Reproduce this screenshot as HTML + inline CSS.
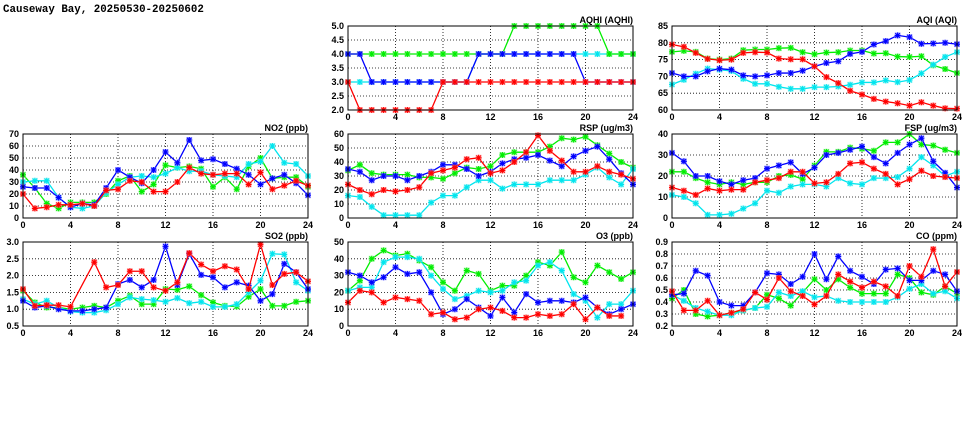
<!DOCTYPE html>
<html><head><meta charset="utf-8"><style>
body{margin:0;background:#fff;width:975px;height:447px;overflow:hidden}
svg{display:block}
text{font-family:"Liberation Sans",sans-serif;font-weight:bold;font-size:9px;fill:#000}
</style></head><body>
<svg id="s" width="975" height="447" xmlns="http://www.w3.org/2000/svg">
<text x="3" y="12" style="font-family:'Liberation Mono',monospace;font-size:10.8px">Causeway Bay, 20250530-20250602</text>
</svg>
<script>
const S=document.getElementById('s');const NS='http://www.w3.org/2000/svg';
function el(t,a,txt){const e=document.createElementNS(NS,t);for(const k in a)e.setAttribute(k,a[k]);if(txt!=null)e.textContent=txt;S.appendChild(e);return e;}
const C={b:'#0000ff',g:'#00ee00',c:'#00e5ee',r:'#ff0000'};
const LC={b:'#8888ff',g:'#88f088',c:'#88f0f0',r:'#ff8888'};
function panel(x0,x1,y0,y1,ymin,ymax,step,dec,title,series){
  const X=h=>x0+(x1-x0)*h/24, Y=v=>y1-(y1-y0)*(v-ymin)/(ymax-ymin);
  for(let v=ymin+step;v<ymax-1e-9;v+=step){el('line',{x1:x0,x2:x1,y1:Y(v),y2:Y(v),stroke:'#000','stroke-width':0.8,'stroke-dasharray':'1,2'});}
  for(let h=4;h<24;h+=4){el('line',{x1:X(h),x2:X(h),y1:y0,y2:y1,stroke:'#000','stroke-width':0.8,'stroke-dasharray':'1,2'});}
  for(let v=ymin;v<=ymax+1e-9;v+=step){el('text',{x:x0-4,y:Y(v)+3,'text-anchor':'end'},v.toFixed(dec));}
  for(let h=0;h<=24;h+=4){el('text',{x:X(h),y:y1+10,'text-anchor':'middle'},String(h));}
  el('text',{x:x1,y:y0-3,'text-anchor':'end'},title);
  for(const [k,d] of series){
    const pts=[];d.forEach((v,i)=>{if(v!=null)pts.push([X(i),Y(v)]);});
    el('polyline',{points:pts.map(p=>p.join(',')).join(' '),fill:'none',stroke:C[k],'stroke-width':1.3});
    for(const [px,py] of pts){
      el('rect',{x:px-3,y:py-3,width:6,height:6,fill:LC[k],opacity:0.6});
      el('path',{d:`M${px-3},${py}h6M${px},${py-3}v6M${px-2.3},${py-2.3}l4.6,4.6M${px-2.3},${py+2.3}l4.6,-4.6`,stroke:C[k],'stroke-width':1.1});
    }
  }
  el('rect',{x:x0,y:y0,width:x1-x0,height:y1-y0,fill:'none',stroke:'#000','stroke-width':1});
}
const L=[23,308],M=[348,633],R=[672,957];
const T=[26,110],Mi=[134,218],B=[242,326];
panel(M[0],M[1],T[0],T[1],2,5,0.5,1,'AQHI (AQHI)',[
['c',[3,3,3,3,3,3,3,3,3,3,3,4,4,4,4,4,4,4,4,4,4,4,4,4,4]],
['g',[4,4,4,4,4,4,4,4,4,4,4,4,4,4,5,5,5,5,5,5,5,5,4,4,4]],
['b',[4,4,3,3,3,3,3,3,3,3,3,4,4,4,4,4,4,4,4,4,3,3,3,3,3]],
['r',[3,2,2,2,2,2,2,2,3,3,3,3,3,3,3,3,3,3,3,3,3,3,3,3,3]]]);
panel(R[0],R[1],T[0],T[1],60,85,5,0,'AQI (AQI)',[
['g',[77.3,77.6,77.3,75.3,75,75.3,77.8,78,78,78.4,78.5,77.2,76.6,77.1,77.2,77.7,77.7,76.8,76.9,75.9,75.8,76,73.3,72.2,71]],
['c',[67.6,69,70.8,72.3,72,71.6,69.3,67.8,67.8,66.9,66.3,66.3,66.8,66.8,67,67.5,68.2,68.2,68.8,68.3,68.9,70.9,73.5,75.8,77.2]],
['b',[71,70,70,71.5,72.3,72,70.3,70,70.3,71,71,71.7,73,74,74.5,76.7,77.3,79.5,80.5,82.2,81.7,79.7,79.8,80,79.6]],
['r',[79.5,78.8,77,75.2,74.8,75,77,77.2,77.1,75.3,75.1,75.1,73,69.8,68,65.7,64.6,63.3,62.5,62,61.3,62.3,61.3,60.5,60.4]]]);
panel(L[0],L[1],Mi[0],Mi[1],0,70,10,0,'NO2 (ppb)',[
['g',[36,25,12,8,13,13,13,20,31,35,22,28,44,42,43,41,26,34,24,43,50,33,34,34,26]],
['c',[30,31,31,17,9,8,10,21,28,34,35,34,37,42,39,39,36,35,34,45,47,60,46,45,35]],
['b',[26,25,25,17,9,12,11,25,40,34,29,40,55,46,65,48,49,45,41,36,28,33,36,29,19]],
['r',[20,8,9,11,11,12,10,23,24,31,30,22,22,30,42,37,36,37,37,28,38,24,27,31,27]]]);
panel(M[0],M[1],Mi[0],Mi[1],0,60,10,0,'RSP (ug/m3)',[
['g',[34,38,32,31,31,31,29,29,28,32,36,35,37,45,47,47,47,51,57,56,58,52,46,40,36]],
['c',[16,15,8,2,2,2,2,11,16,16,22,27,27,21,24,24,24,27,27,27,31,36,29,24,35]],
['b',[35,33,27,30,30,27,30,33,38,38,35,30,33,39,42,43,45,41,37,44,48,51,42,32,24]],
['r',[24,20,17,20,19,20,22,32,34,36,42,43,32,34,40,47,59,48,41,33,33,37,33,31,28]]]);
panel(R[0],R[1],Mi[0],Mi[1],0,40,10,0,'FSP (ug/m3)',[
['g',[22,22,19,17,16,17,16,17,17,20,20.5,18.5,25,31.5,31.5,33.5,33,32,36,36,40,35,34.5,32.5,31]],
['c',[11,10,7,1.5,1.5,2,4.5,7,13,12,15,16,16,15,19,16.5,16,19,19,19.5,23.5,29,25,20,22]],
['b',[31,27,20,20,17.5,16,18,19,23.5,25,26.5,21,24,30,31,32.5,34,29,26,31,35,38,27,21.5,14.5]],
['r',[14.5,13,11,14,13,13.5,13.5,17,18,19,22,22,16.5,17,21,26,26.5,23.5,21,16,18.5,22.5,20,19.5,19]]]);
panel(L[0],L[1],B[0],B[1],0.5,3,0.5,1,'SO2 (ppb)',[
['g',[1.55,1.2,1.05,1.05,1,1.05,1.1,1.05,1.25,1.4,1.15,1.15,1.6,1.58,1.68,1.42,1.2,1.1,1.08,1.37,1.6,1.1,1.1,1.22,1.25]],
['c',[1.3,1.15,1.25,1.05,0.93,0.9,0.9,0.97,1.15,1.35,1.3,1.27,1.22,1.33,1.18,1.22,1.07,1.07,1.15,1.5,1.85,2.65,2.63,1.8,1.55]],
['b',[1.25,1.05,1.1,1,0.95,0.95,1,1.05,1.75,1.87,1.65,1.87,2.87,1.72,2.65,2.02,1.95,1.65,1.8,1.7,1.25,1.45,2.35,2.1,1.6]],
['r',[1.6,1.1,1.12,1.12,1.07,null,2.4,1.65,1.72,2.13,2.13,1.65,1.55,1.8,2.67,2.33,2.13,2.28,2.18,1.6,2.93,1.72,2.05,2.1,1.83]]]);
panel(M[0],M[1],B[0],B[1],0,50,10,0,'O3 (ppb)',[
['g',[21,27,40,45,42,43,39,35,26,21,33,31,21,24,24,30,38,36,44,29,26,36,32,28,32]],
['c',[21,23,23,38,41,41,40,30,22,16,18,21,20,21,26,27,36,38,33,19,15,5,13,13,21]],
['b',[32,30,26,29,35,31,32,20,7,10,16,11,6,17,8,19,14,15,15,14,17,11,7,10,13]],
['r',[14,21,20,14,17,16,15,7,8,4,5,10,11,9,5,5,7,6,7,13,4,11,6,6,null]]]);
panel(R[0],R[1],B[0],B[1],0.2,0.9,0.1,1,'CO (ppm)',[
['g',[.43,.5,.3,.28,.29,.31,.33,.35,.46,.43,.37,.48,.59,.5,.59,.52,.47,.47,.47,.63,.6,.48,.46,.53,.47]],
['c',[.46,.41,.35,.32,.29,.29,.33,.35,.36,.48,.45,.49,.44,.45,.41,.4,.4,.4,.4,.44,.51,.55,.47,.49,.43]],
['b',[.46,.47,.66,.62,.4,.37,.37,.48,.64,.63,.55,.61,.8,.59,.78,.66,.61,.55,.67,.68,.58,.58,.66,.63,.49]],
['r',[.49,.33,.33,.41,.29,.31,.34,.48,.42,.6,.49,.45,.38,.45,.63,.57,.52,.57,.53,.45,.7,.61,.84,.53,.65]]]);
</script>
</body></html>
